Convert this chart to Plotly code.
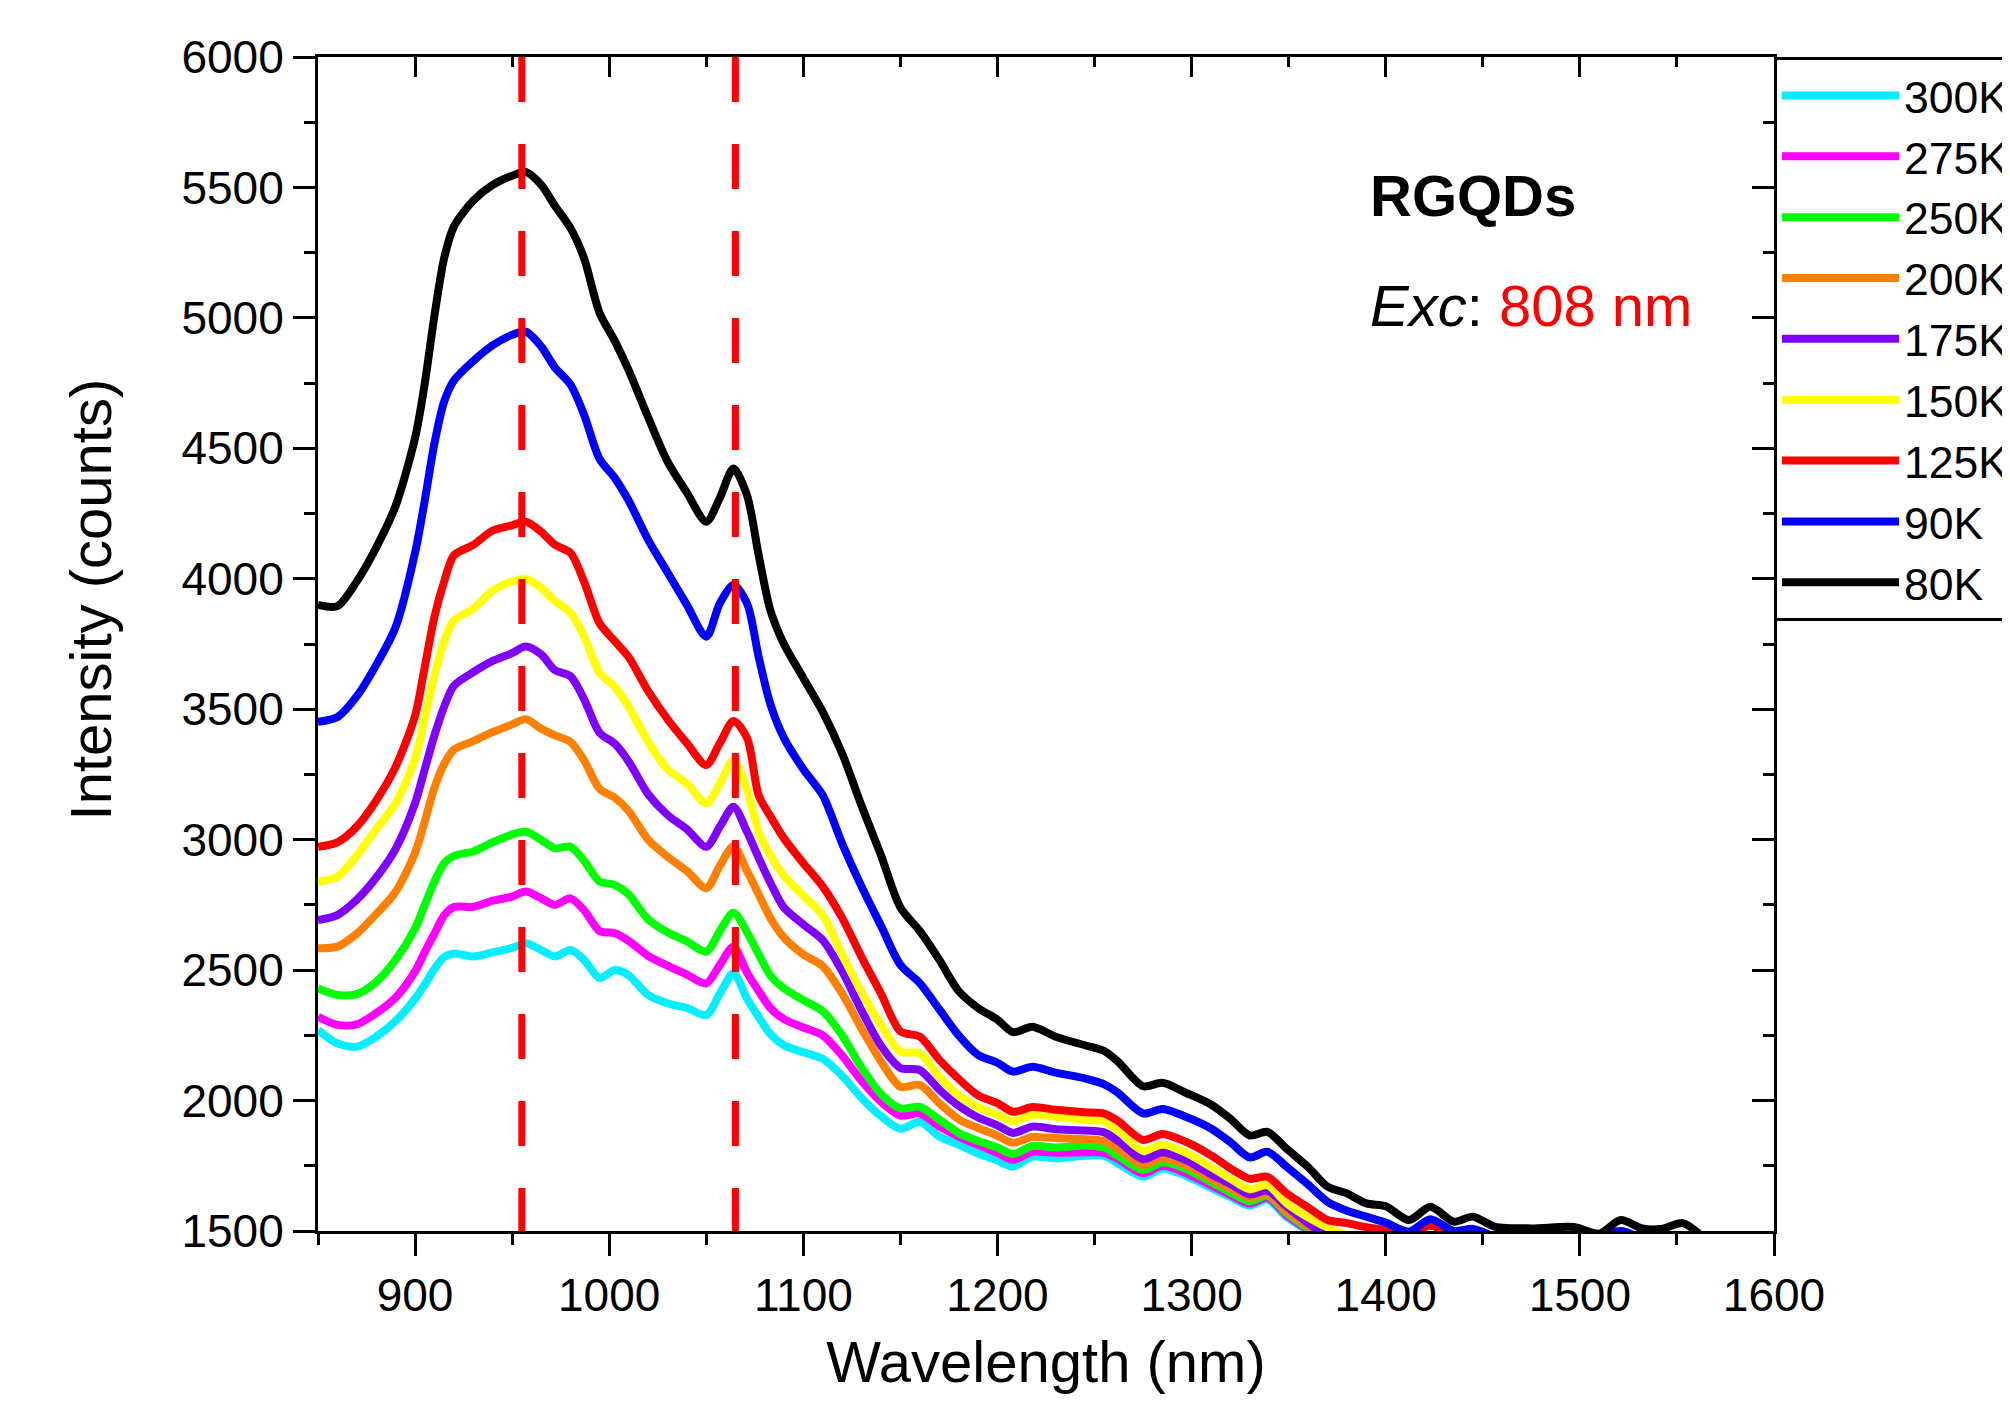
import plotly.graph_objects as go

# Wavelength grid (nm)
WAVELENGTH = [850, 860, 870, 880, 890, 900, 905, 910, 915, 920, 930, 940, 950, 957, 965, 972, 980, 987, 995,
              1003, 1010, 1020, 1030, 1040, 1050, 1057, 1064, 1071, 1077, 1083, 1090, 1100, 1110, 1120, 1130,
              1140, 1150, 1160, 1170, 1180, 1190, 1200, 1208, 1218, 1230, 1245, 1255, 1262, 1275, 1285, 1297,
              1310, 1320, 1330, 1339, 1349, 1360, 1370, 1380, 1390, 1400, 1412, 1423, 1435, 1445, 1456, 1475,
              1497, 1510, 1521, 1532, 1542, 1553, 1562]

I_80K = [3900, 3895, 3990, 4120, 4280, 4540, 4749, 5010, 5230, 5350, 5450, 5510, 5545, 5560, 5510, 5430, 5345,
         5230, 5020, 4910, 4800, 4620, 4450, 4330, 4219, 4310, 4423, 4320, 4090, 3880, 3750, 3620, 3490, 3330,
         3130, 2940, 2740, 2650, 2540, 2420, 2355, 2310, 2262, 2283, 2245, 2212, 2190, 2150, 2055, 2068, 2030,
         1985, 1930, 1866, 1880, 1815, 1745, 1670, 1644, 1606, 1595, 1542, 1593, 1536, 1555, 1517, 1510,
         1515, 1490, 1542, 1510, 1508, 1530, 1485]
I_90K = [3452, 3470, 3550, 3670, 3815, 4100, 4300, 4520, 4680, 4760, 4835, 4895, 4935, 4947, 4890, 4810, 4745,
         4630, 4460, 4385, 4300, 4150, 4025, 3900, 3778, 3906, 3976, 3906, 3700, 3520, 3390, 3270, 3170, 2985,
         2820, 2670, 2520, 2450, 2350, 2250, 2175, 2145, 2111, 2130, 2107, 2085, 2062, 2030, 1951, 1968, 1938,
         1893, 1840, 1782, 1804, 1746, 1678, 1612, 1578, 1555, 1532, 1498, 1545, 1500, 1508, 1480, 1470,
         1470, 1480, 1500, 1470, None, None, None]
I_125K = [2973, 2990, 3050, 3150, 3280, 3475, 3663, 3855, 3990, 4090, 4130, 4185, 4205, 4219, 4180, 4130, 4100,
          3990, 3830, 3760, 3700, 3570, 3462, 3370, 3286, 3370, 3455, 3390, 3170, 3090, 3005, 2910, 2820, 2700,
          2550, 2410, 2265, 2245, 2157, 2083, 2020, 1990, 1957, 1975, 1965, 1955, 1950, 1922, 1849, 1872, 1842,
          1790, 1740, 1700, 1708, 1644, 1590, 1542, 1530, 1515, 1504, 1490, 1520, 1480, None, None, None,
          None, None, None, None, None, None, None]
I_150K = [2839, 2858, 2940, 3040, 3140, 3310, 3470, 3630, 3760, 3840, 3885, 3955, 3990, 4000, 3965, 3915, 3870,
          3780, 3640, 3585, 3510, 3375, 3270, 3215, 3139, 3215, 3305, 3190, 3030, 2940, 2862, 2785, 2710, 2560,
          2415, 2290, 2187, 2181, 2091, 2020, 1975, 1945, 1920, 1945, 1938, 1925, 1920, 1885, 1808, 1832, 1800,
          1745, 1700, 1660, 1676, 1606, 1552, 1513, 1485, None, None, None, None, None, None, None, None,
          None, None, None, None, None, None, None]
I_175K = [2692, 2711, 2770, 2855, 2965, 3140, 3270, 3400, 3510, 3590, 3642, 3685, 3715, 3740, 3710, 3650, 3627,
          3540, 3410, 3367, 3300, 3175, 3095, 3040, 2973, 3050, 3126, 3030, 2930, 2835, 2740, 2675, 2615, 2495,
          2345, 2210, 2125, 2117, 2042, 1980, 1935, 1905, 1876, 1900, 1890, 1885, 1878, 1846, 1775, 1802, 1772,
          1718, 1680, 1640, 1655, 1593, 1530, 1480, None, None, None, None, None, None, None, None, None,
          None, None, None, None, None, None, None]
I_200K = [2584, 2590, 2640, 2715, 2800, 2950, 3070, 3200, 3290, 3345, 3378, 3412, 3442, 3462, 3425, 3400, 3375,
          3305, 3195, 3160, 3110, 3000, 2935, 2880, 2814, 2900, 2975, 2880, 2790, 2700, 2625, 2560, 2515, 2410,
          2275, 2150, 2053, 2060, 1990, 1928, 1895, 1865, 1838, 1860, 1856, 1852, 1845, 1815, 1753, 1780, 1753,
          1700, 1662, 1628, 1642, 1574, 1518, 1470, None, None, None, None, None, None, None, None, None,
          None, None, None, None, None, None, None]
I_250K = [2430, 2405, 2408, 2455, 2540, 2660, 2750, 2840, 2910, 2938, 2955, 2990, 3020, 3031, 2999, 2967, 2973,
          2920, 2840, 2826, 2790, 2695, 2645, 2610, 2571, 2650, 2720, 2645, 2560, 2480, 2430, 2385, 2342, 2250,
          2127, 2025, 1970, 1976, 1927, 1876, 1845, 1820, 1795, 1826, 1820, 1828, 1820, 1788, 1734, 1764, 1738,
          1688, 1648, 1614, 1636, 1568, 1510, 1465, None, None, None, None, None, None, None, None, None,
          None, None, None, None, None, None, None]
I_275K = [2321, 2290, 2292, 2335, 2395, 2495, 2570, 2640, 2710, 2742, 2743, 2766, 2782, 2801, 2775, 2750, 2775,
          2730, 2650, 2641, 2612, 2555, 2517, 2483, 2449, 2520, 2590, 2490, 2420, 2355, 2312, 2280, 2250, 2172,
          2075, 1995, 1942, 1951, 1901, 1862, 1830, 1800, 1773, 1804, 1800, 1802, 1800, 1776, 1721, 1750, 1722,
          1675, 1638, 1605, 1628, 1560, 1505, 1460, None, None, None, None, None, None, None, None, None,
          None, None, None, None, None, None, None]
I_300K = [2270, 2219, 2206, 2245, 2305, 2390, 2445, 2505, 2550, 2564, 2552, 2568, 2585, 2603, 2577, 2552, 2577,
          2540, 2470, 2500, 2480, 2405, 2373, 2355, 2328, 2410, 2488, 2390, 2320, 2255, 2212, 2185, 2160, 2095,
          2010, 1940, 1892, 1919, 1862, 1831, 1797, 1770, 1747, 1785, 1779, 1788, 1788, 1759, 1708, 1740, 1712,
          1665, 1630, 1597, 1620, 1553, 1500, 1455, None, None, None, None, None, None, None, None, None,
          None, None, None, None, None, None, None]

SERIES_NAMES = ["300K", "275K", "250K", "200K", "175K", "150K", "125K", "90K", "80K"]
SERIES_VALUES = [I_300K, I_275K, I_250K, I_200K, I_175K, I_150K, I_125K, I_90K, I_80K]
SERIES_COLORS = ["#00F0FF", "#FF00FF", "#00FF00", "#FF8000", "#8000FF", "#FFFF00", "#FF0000", "#0000FF", "#000000"]

PEAK_LINES = [955, 1065]
Y_RANGE = [1500, 6000]
X_RANGE = [850, 1600]

FONT = "Liberation Sans, Arial, sans-serif"

fig = go.Figure()
for name, vals, col in zip(SERIES_NAMES, SERIES_VALUES, SERIES_COLORS):
    fig.add_trace(go.Scatter(x=WAVELENGTH, y=vals, name=name, mode="lines",
                             line=dict(color=col, width=8, shape="spline", smoothing=0.8),
                             connectgaps=False))

for px in PEAK_LINES:
    fig.add_trace(go.Scatter(x=[px, px], y=[Y_RANGE[1], Y_RANGE[0]], mode="lines", showlegend=False,
                             line=dict(color="#FF0000", width=7, dash="45px,42px"), hoverinfo="skip"))

# dummy trace for the mirrored (top/right) axes
fig.add_trace(go.Scatter(x=[None], y=[None], xaxis="x2", yaxis="y2", showlegend=False, hoverinfo="skip"))

axis_common = dict(showline=True, linewidth=3, linecolor="black", showgrid=False, zeroline=False,
                   tickwidth=3, tickcolor="black")

fig.update_layout(
    width=2010, height=1418,
    paper_bgcolor="white", plot_bgcolor="white",
    margin=dict(l=310, r=244, t=49, b=195, autoexpand=False),
    font=dict(family=FONT, color="black"),
    xaxis=dict(range=X_RANGE, dtick=100, tick0=900, ticks="outside", ticklen=22,
               minor=dict(dtick=50, tick0=850, ticks="outside", ticklen=11, tickwidth=3, tickcolor="black"),
               tickfont=dict(size=46, family=FONT), tickformat="d",
               title=dict(text="Wavelength (nm)", font=dict(size=58, family=FONT), standoff=22),
               **axis_common),
    yaxis=dict(range=Y_RANGE, dtick=500, tick0=1500, ticks="outside", ticklen=22,
               minor=dict(dtick=250, tick0=1500, ticks="outside", ticklen=11, tickwidth=3, tickcolor="black"),
               tickfont=dict(size=46, family=FONT), tickformat="d",
               **axis_common),
    xaxis2=dict(range=X_RANGE, overlaying="x", side="top", dtick=100, tick0=900, ticks="inside", ticklen=20,
                minor=dict(dtick=50, tick0=850, ticks="inside", ticklen=10, tickwidth=3, tickcolor="black"),
                showticklabels=False, **axis_common),
    yaxis2=dict(range=Y_RANGE, overlaying="y", side="right", dtick=500, tick0=1500, ticks="inside", ticklen=22,
                minor=dict(dtick=250, tick0=1500, ticks="inside", ticklen=11, tickwidth=3, tickcolor="black"),
                showticklabels=False, **axis_common),
    legend=dict(x=1, y=1, xanchor="left", yanchor="top", bgcolor="white", bordercolor="black", borderwidth=3,
                font=dict(size=44.5, family=FONT), itemwidth=117, tracegroupgap=0),
    showlegend=True,
)

# y-axis title (placed slightly above the axis centre, as in the original)
fig.add_annotation(x=-0.1566, y=0.538, xref="paper", yref="paper", text="Intensity (counts)", textangle=-90,
                   showarrow=False, xanchor="center", yanchor="middle",
                   font=dict(size=58, family=FONT, color="black"))

fig.add_annotation(x=1391, y=5471, xref="x", yref="y", text="<b>RGQDs</b>", showarrow=False,
                   xanchor="left", yanchor="middle", font=dict(size=58, family=FONT, color="black"))
fig.add_annotation(x=1391, y=5049, xref="x", yref="y",
                   text="<i>Exc</i>: <span style='color:#FF0000'>808 nm</span>", showarrow=False,
                   xanchor="left", yanchor="middle", font=dict(size=58, family=FONT, color="black"))

fig.write_html("out.html")
